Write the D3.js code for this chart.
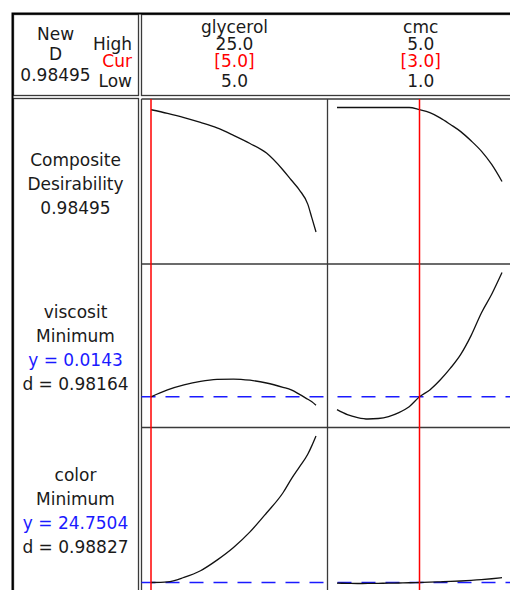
<!DOCTYPE html>
<html>
<head>
<meta charset="utf-8">
<script src="https://cdn.jsdelivr.net/npm/d3@7/dist/d3.min.js"></script>
<style>
  html, body { margin: 0; padding: 0; background: #fff; }
  svg { display: block; }
  text { font-family: "DejaVu Sans", Verdana, sans-serif; font-size: 17px; fill: #1a1a1a; }
</style>
</head>
<body>
<svg id="chart" width="510" height="590"></svg>
<script>
// Response optimizer: two factors, composite desirability and two responses.
const factorNames = ["glycerol", "cmc"];
const factorHigh  = ["25.0", "5.0"];
const factorCur   = ["[5.0]", "[3.0]"];
const factorLow   = ["5.0", "1.0"];
const factorCurrent = [5.0, 3.0];
const factorRange   = [[5, 25], [1, 5]];

const compositeD = "0.98495";

// Factor settings along each column
const glycerolLevels = [5, 7, 9, 11, 13, 15, 17, 19, 21, 22, 23, 24, 24.5, 25];
const cmcLevels = [1, 1.25, 1.5, 1.75, 2, 2.25, 2.5, 2.75, 3, 3.25, 3.5, 3.75, 4, 4.25, 4.5, 4.75, 5];

// Composite desirability
const desirGlycerol = [0.98495, 0.960, 0.932, 0.899, 0.862, 0.812, 0.757, 0.692, 0.578, 0.51, 0.442, 0.347, 0.254, 0.159];
const desirCmc = [1, 1, 1, 1, 1, 1, 1, 1, 0.98495, 0.965, 0.93, 0.885, 0.837, 0.775, 0.705, 0.615, 0.5];

// viscosit response
const viscGlycerol = [0.0143, 0.0150, 0.0155, 0.01586, 0.01606, 0.0161, 0.01598, 0.0157, 0.01526, 0.0150, 0.01455, 0.01405, 0.0138, 0.01345];
const viscCmc = [0.0130, 0.0125, 0.0122, 0.01205, 0.0121, 0.0123, 0.0127, 0.0133, 0.0143, 0.0150, 0.0160, 0.0172, 0.0186, 0.0205, 0.0228, 0.0247, 0.0269];
const viscCurrent = 0.0143;

// color response
const colorGlycerol = [24.7504, 24.95, 26.3, 28.3, 31.5, 35.3, 40.0, 45.7, 51.8, 55.9, 59.6, 63.4, 66.0, 68.9];
const colorCmc = [24.55, 24.5, 24.45, 24.47, 24.5, 24.55, 24.6, 24.67, 24.7504, 24.85, 24.95, 25.07, 25.2, 25.38, 25.6, 25.88, 26.2];
const colorCurrent = 24.7504;

// Row labels
const compositeLabel = ["Composite", "Desirability", "0.98495"];
const viscLabel  = ["viscosit", "Minimum", "y = 0.0143", "d = 0.98164"];
const colorLabel = ["color", "Minimum", "y = 24.7504", "d = 0.98827"];

// ---- layout ----
const svg = d3.select("#chart");
const frameL = 12.5, frameT = 13.5;
const headBottom = 95.5, bodyTop = 98.5;
const labelRight = 138.5;
const colEdges = [141.5, 327.5, 514];
const rowEdges = [99, 264, 427.5, 592];
const pad = 8.5;
const gridColor = "#3a3a3a";
const curveColor = "#111";
const refRed = "#ff0000";
const targetBlue = "#1a1aff";

svg.append("rect").attr("width", 510).attr("height", 590).attr("fill", "#fff");

// cell outlines
const cells = svg.append("g").attr("fill", "none").attr("stroke", gridColor).attr("stroke-width", 1.3);
cells.append("rect").attr("x", frameL + 1).attr("y", frameT + 1)
  .attr("width", labelRight - frameL - 1).attr("height", headBottom - frameT - 1);
cells.append("rect").attr("x", colEdges[0]).attr("y", frameT + 1)
  .attr("width", 540 - colEdges[0]).attr("height", headBottom - frameT - 1);
cells.append("rect").attr("x", frameL + 1).attr("y", bodyTop)
  .attr("width", labelRight - frameL - 1).attr("height", 620 - bodyTop);

// panel grid
const grid = svg.append("g").attr("stroke", gridColor).attr("stroke-width", 1.3);
colEdges.forEach(x => grid.append("line").attr("x1", x).attr("x2", x).attr("y1", rowEdges[0]).attr("y2", 620));
rowEdges.forEach(y => grid.append("line").attr("x1", colEdges[0]).attr("x2", 540).attr("y1", y).attr("y2", y));

// outer frame
svg.append("rect").attr("x", frameL).attr("y", frameT)
  .attr("width", 540 - frameL).attr("height", 640 - frameT)
  .attr("fill", "none").attr("stroke", "#000").attr("stroke-width", 2);

// multi-line text block: one <text>, one <tspan> per line
function textBlock(x, anchor, lines) {
  const t = svg.append("text").attr("text-anchor", anchor);
  lines.forEach(([s, y, color]) => {
    const ts = t.append("tspan").attr("x", x).attr("y", y).text(s);
    if (color) ts.style("fill", color);
  });
  return t;
}

// ---- header ----
textBlock(55.5, "middle", [["New", 39.5], ["D", 60], [compositeD, 80.5]]);
textBlock(132, "end", [["High", 50], ["Cur", 67, refRed], ["Low", 86.5]]);

// ---- scales ----
const xScales = factorRange.map((dom, i) =>
  d3.scaleLinear().domain(dom).range([colEdges[i] + 9.5, colEdges[i] + 174.5]));

function yRange(r) { return [rowEdges[r + 1] - pad, rowEdges[r] + pad]; }
const yScales = [
  d3.scaleLinear().domain([0, 1]).range(yRange(0)),
  d3.scaleLinear().domain(d3.extent(viscGlycerol.concat(viscCmc))).range(yRange(1)),
  d3.scaleLinear().domain(d3.extent(colorGlycerol.concat(colorCmc))).range(yRange(2))
];

factorNames.forEach((name, i) => {
  const cx = (colEdges[i] + colEdges[i + 1]) / 2;
  textBlock(cx, "middle", [
    [name, 33], [factorHigh[i], 50], [factorCur[i], 67, refRed], [factorLow[i], 86.5]
  ]);
});

// ---- row labels ----
const labels = [
  { lines: compositeLabel, baselines: [166, 190, 214], blue: -1 },
  { lines: viscLabel, baselines: [317.5, 341.8, 366, 390.2], blue: 2 },
  { lines: colorLabel, baselines: [481, 504.8, 529, 552.8], blue: 2 }
];
labels.forEach(l => textBlock(75.5, "middle",
  l.lines.map((s, k) => [s, l.baselines[k], k === l.blue ? targetBlue : null])));

// ---- target lines at the current response values ----
const targets = [null, viscCurrent, colorCurrent];
targets.forEach((v, r) => {
  if (v === null) return;
  const y = yScales[r](v);
  [0, 1].forEach(c => {
    svg.append("line")
      .attr("x1", colEdges[c]).attr("x2", colEdges[c + 1])
      .attr("y1", y).attr("y2", y)
      .attr("stroke", targetBlue).attr("stroke-width", 1.5)
      .attr("stroke-dasharray", "14,10")
      .attr("stroke-dashoffset", c === 0 ? 0 : 14);
  });
});

// ---- response curves ----
const series = [
  [[glycerolLevels, desirGlycerol], [cmcLevels, desirCmc]],
  [[glycerolLevels, viscGlycerol], [cmcLevels, viscCmc]],
  [[glycerolLevels, colorGlycerol], [cmcLevels, colorCmc]]
];
series.forEach((row, r) => row.forEach(([xs, ys], c) => {
  const line = d3.line()
    .x((d, k) => xScales[c](xs[k]))
    .y(d => yScales[r](d))
    .curve(d3.curveMonotoneX);
  svg.append("path").attr("d", line(ys))
    .attr("fill", "none").attr("stroke", curveColor).attr("stroke-width", 1.3);
}));

// ---- current factor settings ----
factorCurrent.forEach((v, c) => {
  const x = xScales[c](v);
  svg.append("line").attr("x1", x).attr("x2", x)
    .attr("y1", rowEdges[0]).attr("y2", 620)
    .attr("stroke", refRed).attr("stroke-width", 1.5);
});
</script>
</body>
</html>
